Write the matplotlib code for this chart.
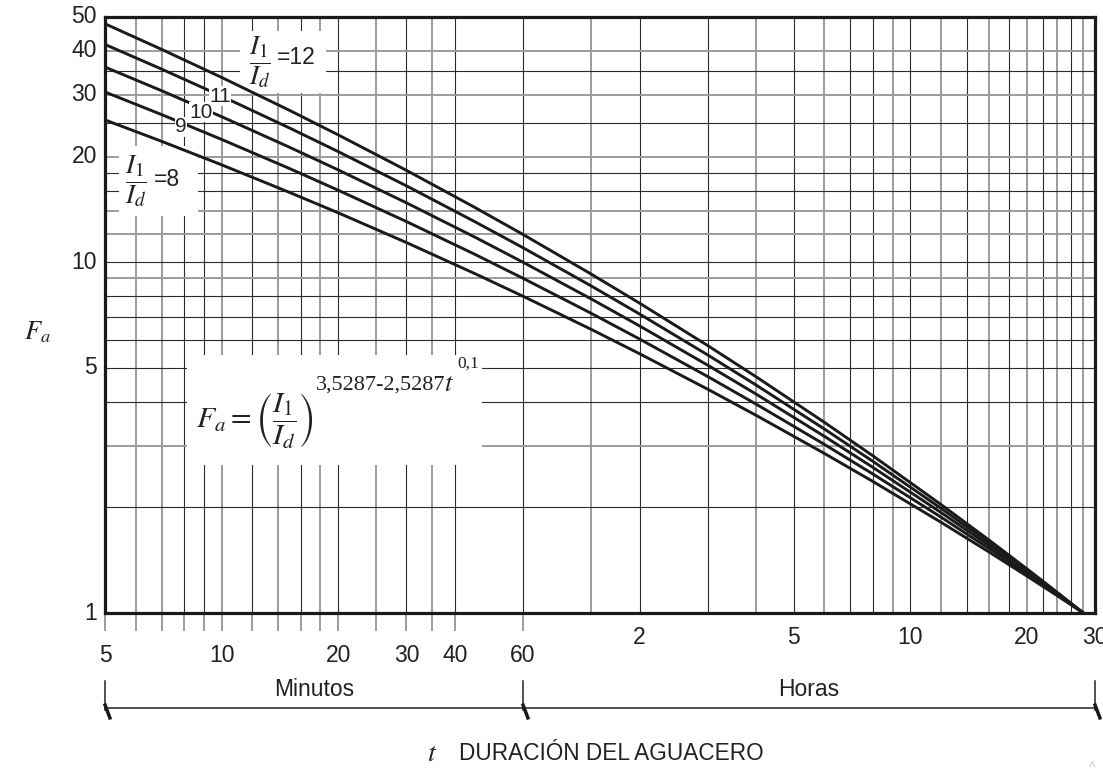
import matplotlib
matplotlib.use('Agg')
import matplotlib.pyplot as plt
from matplotlib.patches import Rectangle
from matplotlib.markers import MarkerStyle
from matplotlib.transforms import Affine2D, blended_transform_factory

plt.rcParams['font.family'] = ['Liberation Sans', 'DejaVu Sans']
plt.rcParams['mathtext.fontset'] = 'stix'

# ---------------- data (duration t in hours, factor Fa) ----------------
t_hours = [5/60, 7/60, 10/60, 15/60, 20/60, 30/60, 45/60, 1.0, 1.5, 2, 3, 4,
           6, 8, 12, 16, 20, 24, 28]
ratios = [8, 9, 10, 11, 12]
fa_r8 = [25.44, 22.11, 18.95, 15.80, 13.83, 11.38, 9.286, 8.0, 6.436, 5.485,
         4.344, 3.660, 2.851, 2.373, 1.815, 1.491, 1.275, 1.119, 1.0]
fa_r9 = [30.56, 26.35, 22.39, 18.48, 16.04, 13.06, 10.54, 9.0, 7.151, 6.040,
         4.721, 3.939, 3.025, 2.492, 1.877, 1.525, 1.293, 1.126, 1.0]
fa_r10 = [36.00, 30.82, 25.99, 21.25, 18.33, 14.77, 11.80, 10.0, 7.859, 6.584,
          5.086, 4.207, 3.190, 2.603, 1.935, 1.556, 1.309, 1.132, 1.0]
fa_r11 = [41.76, 35.52, 29.74, 24.11, 20.67, 16.51, 13.06, 11.0, 8.559, 7.118,
          5.440, 4.465, 3.347, 2.708, 1.989, 1.585, 1.323, 1.138, 1.0]
fa_r12 = [47.82, 40.43, 33.64, 27.07, 23.07, 18.28, 14.34, 12.0, 9.252, 7.644,
          5.785, 4.714, 3.497, 2.808, 2.039, 1.612, 1.337, 1.144, 1.0]
fa_series = [fa_r8, fa_r9, fa_r10, fa_r11, fa_r12]

minute_ticks = [5, 10, 20, 30, 40, 60]            # labelled, minutes
hour_ticks = [2, 5, 10, 20, 30]                   # labelled, hours
y_ticks = [1, 5, 10, 20, 30, 40, 50]
minute_grid = [5, 6, 7, 8, 9, 10, 12, 14, 16, 18, 20, 25, 30, 35, 40, 60]
hour_grid = [1.5, 2, 3, 4, 5, 6, 7, 8, 9, 10, 12, 14, 16, 18, 20, 22, 24, 26, 28]
y_grid = [2, 3, 4, 5, 6, 7, 8, 9, 10, 12, 14, 16, 18, 20, 25, 30, 35, 40]

# inline curve labels: (text, minutes, Fa)
curve_labels = [("11", 9.9, 29.7), ("10", 8.85, 26.8), ("9", 7.85, 24.3)]

# ---------------- figure ----------------
W, H = 1103, 771
fig = plt.figure(figsize=(W / 100, H / 100), dpi=100)
fig.patch.set_facecolor('white')
ax = fig.add_axes([105 / W, (H - 613) / H, 990 / W, 596 / H])
ax.set_xscale('log')
ax.set_yscale('log')
ax.set_xlim(5 / 60, 30)
ax.set_ylim(1, 50)
ax.set_xticks([])
ax.set_yticks([])
ax.minorticks_off()
ax.tick_params(which='both', length=0, labelbottom=False, labelleft=False)
for s in ax.spines.values():
    s.set_linewidth(2.3)
    s.set_color('#1a1a1a')
    s.set_zorder(6)

# pixel transform (origin top-left of the figure)
pix = Affine2D().scale(1 / W, -1 / H).translate(0, 1) + fig.transFigure
bx = blended_transform_factory(ax.transData, pix)      # x data, y pixel
by = blended_transform_factory(pix, ax.transData)      # x pixel, y data
bxa = blended_transform_factory(ax.transData, ax.transAxes)

DARK = dict(color='#2b2b2b', lw=0.8)
GRAY = dict(color='#9c9c9c', lw=1.4)
gray_x_min = {6, 7, 10, 14, 18, 25, 35}
gray_x_hr = {1.5, 4, 6, 9, 12, 16, 20, 24, 28}
gray_y = {9, 12, 14, 20, 30, 40, 3}

for m in minute_grid:
    st = GRAY if m in gray_x_min else DARK
    ax.axvline(m / 60, zorder=1, **st)
    # tick stubs below the frame
    ax.plot([m / 60, m / 60], [0, -17 / 596], transform=bxa, clip_on=False,
            zorder=1, **GRAY)
for h in hour_grid:
    st = GRAY if h in gray_x_hr else DARK
    ax.axvline(h, zorder=1, **st)
for v in y_grid:
    st = GRAY if v in gray_y else DARK
    ax.axhline(v, zorder=1, **st)

# white label boxes (hide gridlines)
def white_box(x0, y0, x1, y1):
    ax.add_patch(Rectangle((x0, y1), x1 - x0, y0 - y1, transform=pix,
                           facecolor='white', edgecolor='none', zorder=2,
                           clip_on=False))

white_box(240, 31, 326, 93)      # I1/Id = 12
white_box(119, 146, 198, 216)    # I1/Id = 8
white_box(187, 355, 482, 465)    # formula

# curves
for fa in fa_series:
    ax.plot(t_hours, fa, color='#1a1a1a', lw=2.1, zorder=4,
            solid_joinstyle='round')

# inline labels
for txt, mnt, fav in curve_labels:
    ax.text(mnt / 60, fav, txt, fontsize=15, ha='center', va='center',
            zorder=5, color='#222222',
            bbox=dict(boxstyle='square,pad=0.02', fc='white', ec='none'))

# tick labels
TFS = 16.5
for v in y_ticks:
    ax.text(97, v, str(v), transform=by, ha='right', va='center',
            fontsize=TFS, color='#222222')
for m in minute_ticks:
    ax.text(m / 60, 655, str(m), transform=bx, ha='center', va='center',
            fontsize=TFS, color='#222222')
for h in hour_ticks:
    ax.text(h, 637, str(h), transform=bx, ha='center', va='center',
            fontsize=TFS, color='#222222', clip_on=False)

# bracket below axis
bracket_x = [5 / 60, 1.0, 30]
ax.plot([bracket_x[0], bracket_x[-1]], [708, 708], transform=bx, color='#222222',
        lw=1.1, clip_on=False)
slash = MarkerStyle('|', transform=Affine2D().rotate_deg(21))
for xv in bracket_x:
    ax.plot([xv, xv], [681, 710], transform=bx, color='#222222', lw=1.1,
            clip_on=False)
    ax.plot([xv * 1.012], [711], transform=bx, marker=slash, markersize=13,
            markeredgewidth=2.5, color='#1a1a1a', clip_on=False)
ax.text((5 / 60 * 1.0) ** 0.5, 690, 'Minutos', transform=bx, ha='center',
        va='center', fontsize=16.5, color='#222222')
ax.text((1.0 * 30) ** 0.5, 690, 'Horas', transform=bx, ha='center',
        va='center', fontsize=16.5, color='#222222')

# axis titles
fig.text(432, 754, '$t$', transform=pix, ha='center', va='center', fontsize=20,
         color='#222222')
fig.text(459, 754, 'DURACIÓN DEL AGUACERO', transform=pix, ha='left',
         va='center', fontsize=16.3, color='#222222')
fig.text(37, 332, '$F_a$', transform=pix, ha='center', va='center', fontsize=19,
         color='#222222')

# ratio labels
fig.text(260, 62, r'$\dfrac{I_1}{I_d}$', transform=pix, ha='center',
         va='center', fontsize=19.5, color='#222222')
fig.text(277, 58, '=12', transform=pix, ha='left', va='center', fontsize=16.5,
         color='#222222')
fig.text(136, 181, r'$\dfrac{I_1}{I_d}$', transform=pix, ha='center',
         va='center', fontsize=19.5, color='#222222')
fig.text(154, 179, '=8', transform=pix, ha='left', va='center', fontsize=16.5,
         color='#222222')

# formula
fig.text(196, 421, r'$F_a=\left(\dfrac{I_1}{I_d}\right)$', transform=pix,
         ha='left', va='center', fontsize=21.5, color='#222222')
fig.text(316, 385, '3,5287-2,5287', transform=pix, ha='left', va='center',
         fontsize=16, family='Liberation Serif', color='#222222')
fig.text(449, 384, '$t$', transform=pix, ha='center', va='center', fontsize=19,
         color='#222222')
fig.text(457, 364, '0,1', transform=pix, ha='left', va='center', fontsize=12.5,
         family='Liberation Serif', color='#222222')

# faint mark at the bottom-right corner of the reference
fig.text(1092, 768, '^', transform=pix, ha='center', va='center', fontsize=10,
         color='#c8c8c8')

fig.savefig('out.png', dpi=100, facecolor='white')
